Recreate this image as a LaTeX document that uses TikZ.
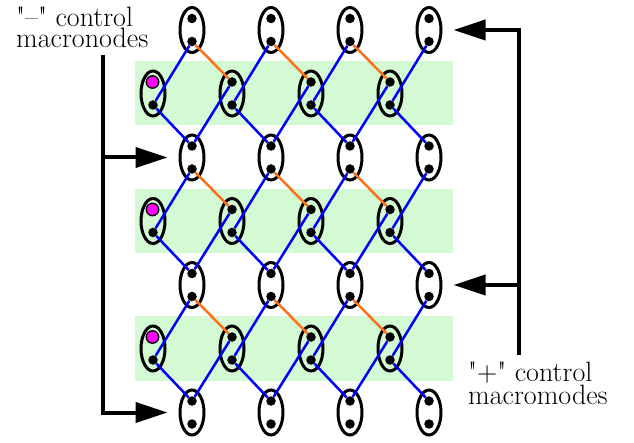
\documentclass[tikz,border=0pt]{standalone}
\usepackage{xcolor}
\usepackage{tikz}
\usetikzlibrary{arrows.meta,shapes.geometric}

\definecolor{bandgreen}{RGB}{211,250,211}
\definecolor{edgeorange}{RGB}{255,112,24}
\definecolor{ctrlpink}{RGB}{255,0,255}

\begin{document}
\begin{tikzpicture}[
        x=1pt, y=-1pt,
        % Styles des nœuds
        macronode/.style={ellipse, draw=black, line width=3pt, minimum width=24pt, minimum height=45pt, inner sep=0pt},
        mode/.style={circle, fill=black, minimum size=9.5pt, inner sep=0pt},
        ctrlmode/.style={circle, draw=black, line width=1.3pt, fill=ctrlpink, minimum size=12.5pt, inner sep=0pt},
        note/.style={align=left, inner sep=0pt, font=\fontsize{28}{21}\selectfont},
        % Style des liens
        cz/.style={blue, line width=2.5pt},
        czneg/.style={edgeorange, line width=2.5pt},
        pointer/.style={line width=4pt, -{Triangle[length=32pt, width=20pt]}, shorten >=11pt}
    ]
    \useasboundingbox (0,0) rectangle (634,443);

    % Bandes vertes
    \foreach \k in {1,2,3}
        \fill[bandgreen] (135,61.5+127.5*\k-127.5) rectangle (453,125.5+127.5*\k-127.5);

    % Macronœuds blancs
    \foreach \i in {0,...,3}
        \foreach \j in {0,...,3} {
            \node[macronode] (w-\i-\j) at (192+79*\j, 30+127.5*\i) {};
            \node[mode] (wt-\i-\j) at (192+79*\j, 18.5+127.5*\i) {};
            \node[mode] (wb-\i-\j) at (192+79*\j, 41.5+127.5*\i) {};
        }

    % Macronœuds des bandes vertes
    \foreach \k in {1,2,3} {
        \foreach \j in {0,...,3} {
            \node[macronode] (g-\k-\j) at (153+79*\j, 93.5+127.5*\k-127.5) {};
            \node[mode] (gb-\k-\j) at (153+79*\j, 105+127.5*\k-127.5) {};
        }
        \node[ctrlmode] (gt-\k-0) at (152.5, 82+127.5*\k-127.5) {};
        \foreach \j in {1,2,3}
            \node[mode] (gt-\k-\j) at (153+79*\j, 82+127.5*\k-127.5) {};
    }

    % Liens
    \foreach \k/\km in {1/0,2/1,3/2} {
        \foreach \j in {0,...,3} {
            \draw[cz] (wb-\km-\j) -- (gb-\k-\j);
            \draw[cz] (gb-\k-\j) -- (wt-\k-\j);
        }
        \foreach \j/\jm in {1/0,2/1,3/2} {
            \draw[cz] (gt-\k-\j) -- (wt-\k-\jm);
            \draw[czneg] (wb-\km-\jm) -- (gt-\k-\j);
        }
    }

    % Légendes et flèches
    \node[note, anchor=base west] (minus) at (16,48) {\textquotedbl--\textquotedbl{} control\\macronodes};
    \node[note, anchor=base west] (plus) at (468,404) {\textquotedbl+\textquotedbl{} control\\macromodes};
    \coordinate (minus-top) at (103,55);
    \coordinate (plus-bot) at (519,355);
    \draw[pointer] (minus-top |- w-1-0.west) -- (w-1-0.west);
    \draw[pointer] (minus-top) |- (w-3-0.west);
    \draw[pointer] (plus-bot) |- (w-0-3.east);
    \draw[pointer] (plus-bot |- w-2-3.east) -- (w-2-3.east);

\end{tikzpicture}
\end{document}
